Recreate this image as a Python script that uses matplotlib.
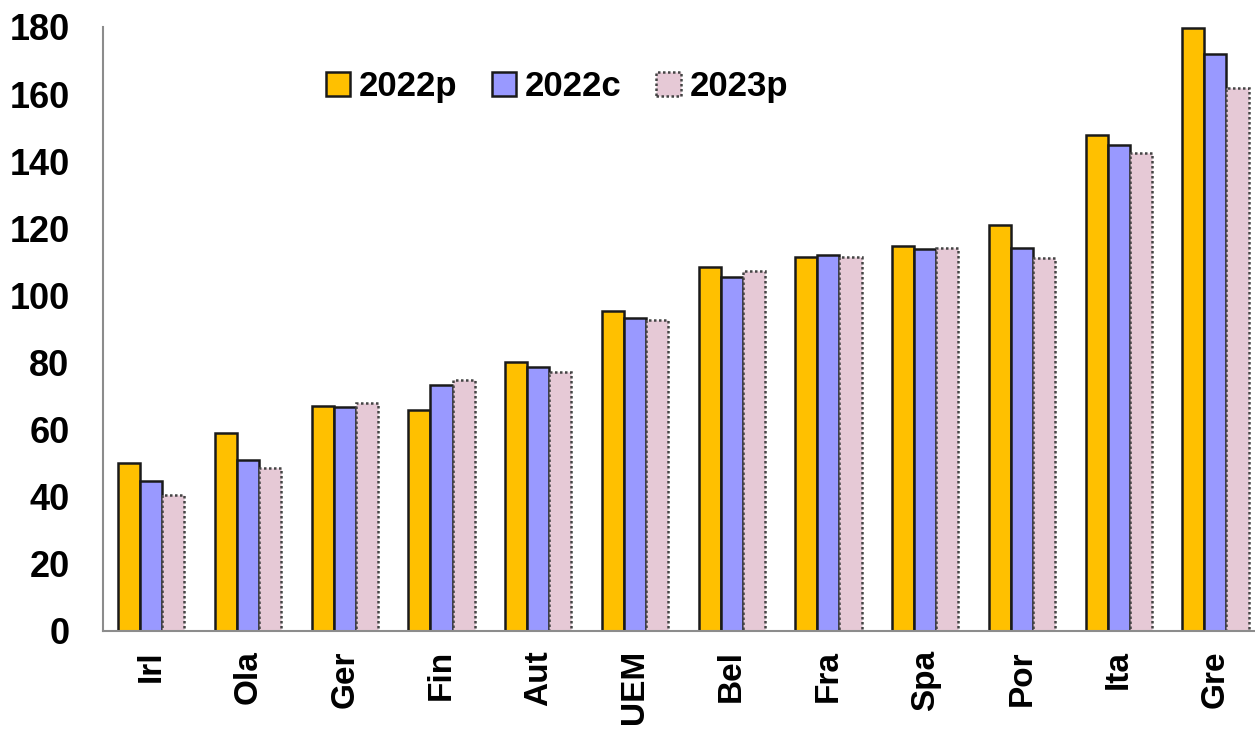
import numpy as np
import matplotlib.pyplot as plt

plt.rcParams['font.family'] = ['Liberation Sans', 'DejaVu Sans']

countries = ['Irl', 'Ola', 'Ger', 'Fin', 'Aut', 'UEM', 'Bel', 'Fra', 'Spa', 'Por', 'Ita', 'Gre']
v2022p = [50.1, 58.8, 66.9, 65.7, 80.1, 95.4, 108.3, 111.3, 114.6, 120.9, 147.9, 179.7]
v2022c = [44.7, 51.0, 66.6, 73.2, 78.6, 93.3, 105.3, 111.9, 113.7, 114.0, 144.9, 171.9]
v2023p = [40.5, 48.6, 67.8, 74.7, 77.1, 92.7, 107.1, 111.3, 114.0, 111.0, 142.5, 161.7]

fig = plt.figure(figsize=(12.55, 7.29), dpi=100)
ax = fig.add_axes([0.082, 0.135, 0.925, 0.828])

x = np.arange(len(countries))
w = 0.228
ax.bar(x - w, v2022p, w, color='#FFC000', edgecolor='#1a1a1a', linewidth=1.8, label='2022p')
ax.bar(x, v2022c, w, color='#9999FF', edgecolor='#1a1a1a', linewidth=1.8, label='2022c')
ax.bar(x + w, v2023p, w, color='#E6C9D6', edgecolor='#444444', linewidth=1.8,
       linestyle=(0, (1, 1)), label='2023p')

ax.set_xlim(-0.5, len(countries) - 0.5)
ax.set_ylim(0, 180)
ax.set_yticks(range(0, 181, 20))
ax.set_xticks(x)
ax.set_xticklabels(countries, rotation=90)
ax.tick_params(axis='both', length=0)
ax.tick_params(axis='y', pad=24, labelsize=26)
ax.tick_params(axis='x', pad=14, labelsize=24)
for lab in ax.get_xticklabels() + ax.get_yticklabels():
    lab.set_fontweight('bold')

for side in ['top', 'right']:
    ax.spines[side].set_visible(False)
for side in ['left', 'bottom']:
    ax.spines[side].set_color('#8c8c8c')
    ax.spines[side].set_linewidth(1.5)

leg = ax.legend(loc='upper left', bbox_to_anchor=(0.165, 0.98), ncol=3, frameon=False,
                prop={'weight': 'bold', 'size': 25}, handlelength=0.7, handleheight=0.7,
                handletextpad=0.25, columnspacing=1.0)

fig.savefig('out.png', dpi=100)
